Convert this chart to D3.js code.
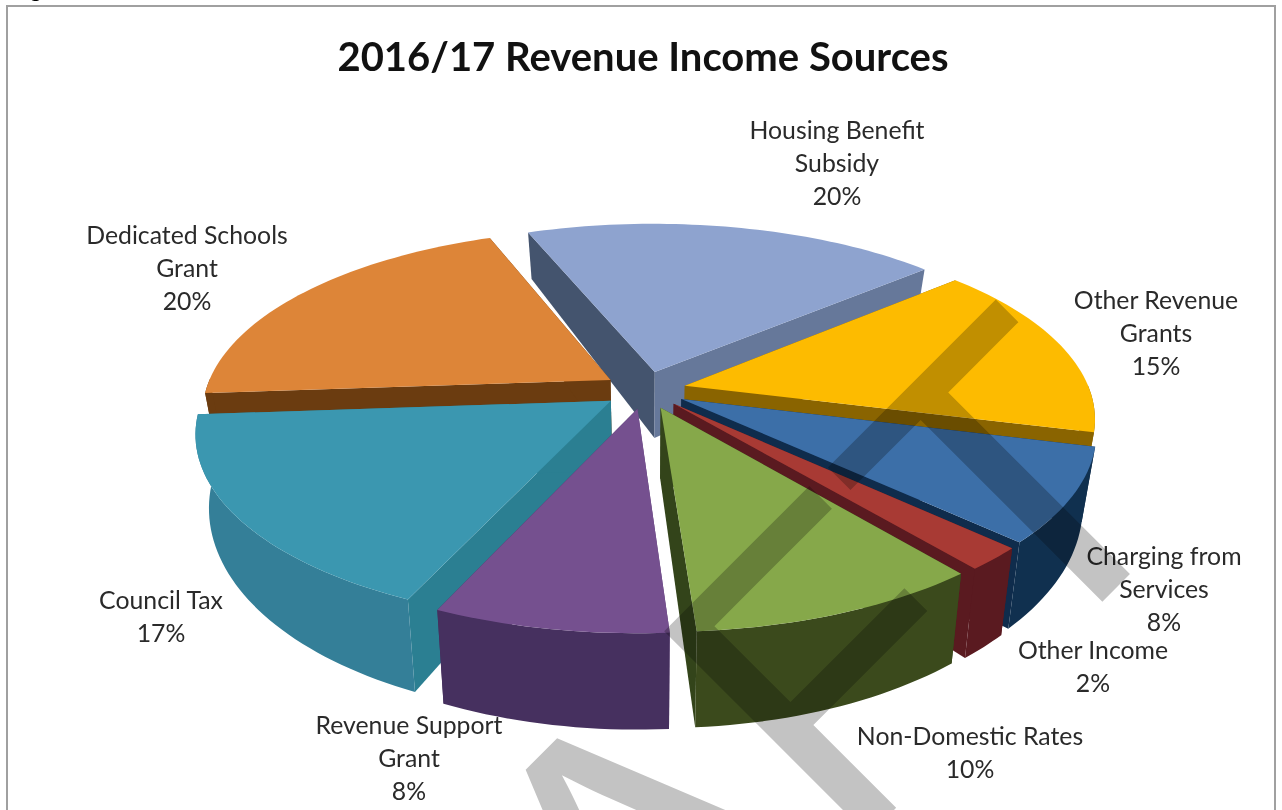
<!DOCTYPE html>
<html><head><meta charset="utf-8">
<script src="https://cdnjs.cloudflare.com/ajax/libs/d3/7.9.0/d3.min.js"></script>
<style>html,body{margin:0;padding:0;background:#fff;overflow:hidden}svg{display:block}</style>
</head><body><svg id="c" width="1282" height="810"></svg>
<script>
// ---- data ----
const categories = ["Housing Benefit Subsidy","Other Revenue Grants","Charging from Services","Other Income","Non-Domestic Rates","Revenue Support Grant","Council Tax","Dedicated Schools Grant"];
const values = [20,15,8,2,10,8,17,20];
const labelLines = [["Housing Benefit","Subsidy"],["Other Revenue","Grants"],["Charging from","Services"],["Other Income"],["Non-Domestic Rates"],["Revenue Support","Grant"],["Council Tax"],["Dedicated Schools","Grant"]];
const title = "2016/17 Revenue Income Sources";
// ---- style ----
const topColors  = ["#8ea3cf","#fdbb00","#3c6fa8","#a83a34","#86a84a","#75508f","#3b97b0","#dd8538"];
const rimColors  = ["#66789a","#8a6400","#10304f","#5a1a20","#3b4a1c","#46305f","#347f98","#6b3c10"];
const wallColors = ["#44546e","#8a6400","#0f2c4c","#5a1a20","#33441a","#5d3f78","#2b7f92","#6b3c10"];
const secondWall = ["#66789a","#8a6400","#0f2c4c","#5a1a20","#33441a","#46305f","#2b7f92","#6b3c10"];
const labelAnchors = [[837,131],[1156,301],[1164,557],[1093,651],[970,737],[409,726],[161,601],[187,236]];
const lineGap = 33;

const W=1282,H=810, cx=645, cy=390, R=395, tiltK=.46, explode=40, depth0=65, startDeg=-22;
const persp = d3.scaleLinear().domain([-R,R]).range([.85,1.2]);
const svg = d3.select("#c");

const arcs = d3.pie().value(d=>d).sort(null)
  .startAngle(startDeg*Math.PI/180).endAngle((360+startDeg)*Math.PI/180)(values);

function proj(X,Y,level){
  const s=persp(Y), b=1-.03*level;
  return [cx+X*s*b, cy+Y*tiltK*s+level*depth0*s*s];
}
const line=d3.line();
function slice(a){
  const mid=(a.startAngle+a.endAngle)/2;
  const ax=explode*Math.sin(mid), ay=-explode*Math.cos(mid);
  const n=Math.max(8,Math.round((a.endAngle-a.startAngle)*40));
  const angs=d3.range(n+1).map(i=>a.startAngle+(a.endAngle-a.startAngle)*i/n);
  const pts=angs.map(t=>({x:ax+R*Math.sin(t), y:ay-R*Math.cos(t), t}));
  return {a,mid,apex:{x:ax,y:ay},pts};
}
const slices=arcs.map((a,i)=>Object.assign(slice(a),{i}));
const order=slices.slice().sort((p,q)=>(-Math.cos(p.mid))-(-Math.cos(q.mid)));

const wall=(p,q)=>line([proj(p.x,p.y,0),proj(q.x,q.y,0),proj(q.x,q.y,1),proj(p.x,p.y,1)])+"Z";

const g=svg.append("g");
order.forEach(s=>{
  const gs=g.append("g");
  const first=s.pts[0], last=s.pts[s.pts.length-1];
  gs.append("path").attr("d",wall(s.apex,first)).attr("fill",wallColors[s.i]);
  gs.append("path").attr("d",wall(s.apex,last)).attr("fill",secondWall[s.i]);
  const front=s.pts.filter(p=>-Math.cos(p.t)>-0.02);
  if(front.length>1){
    const rim=front.map(p=>proj(p.x,p.y,0)).concat(front.slice().reverse().map(p=>proj(p.x,p.y,1)));
    gs.append("path").attr("d",line(rim)+"Z").attr("fill",rimColors[s.i]);
  }
  const top=[proj(s.apex.x,s.apex.y,0)].concat(s.pts.map(p=>proj(p.x,p.y,0)));
  gs.append("path").attr("d",line(top)+"Z").attr("fill",topColors[s.i]);
});

svg.append("rect").attr("x",7).attr("y",6).attr("width",1268).attr("height",830)
  .attr("fill","none").attr("stroke","#a0a0a0").attr("stroke-width",2);
svg.append("text").attr("x",12).attr("y",-3).attr("font-family","Lato").attr("font-weight",700)
  .attr("font-size",22).attr("fill","#000").text("Figure");

svg.append("text").attr("x",643).attr("y",71).attr("text-anchor","middle")
  .attr("font-family","Lato").attr("font-weight",700).attr("font-size",40).attr("fill","#111").text(title);

categories.forEach((c,i)=>{
  const lines=labelLines[i].concat([values[i]+"%"]);
  const t=svg.append("text").attr("font-family","Lato").attr("font-size",24.8).attr("fill","#2a2a2a").attr("text-anchor","middle");
  lines.forEach((l,j)=>t.append("tspan").attr("x",labelAnchors[i][0]).attr("y",labelAnchors[i][1]+8+j*lineGap).text(l));
});

svg.append("text").attr("transform","translate(712,992) rotate(-45)")
  .attr("text-anchor","middle").attr("font-family","Liberation Sans").attr("font-size",420)
  .attr("fill","#c3c3c3").style("mix-blend-mode","multiply").text("DRAFT");
</script></body></html>
